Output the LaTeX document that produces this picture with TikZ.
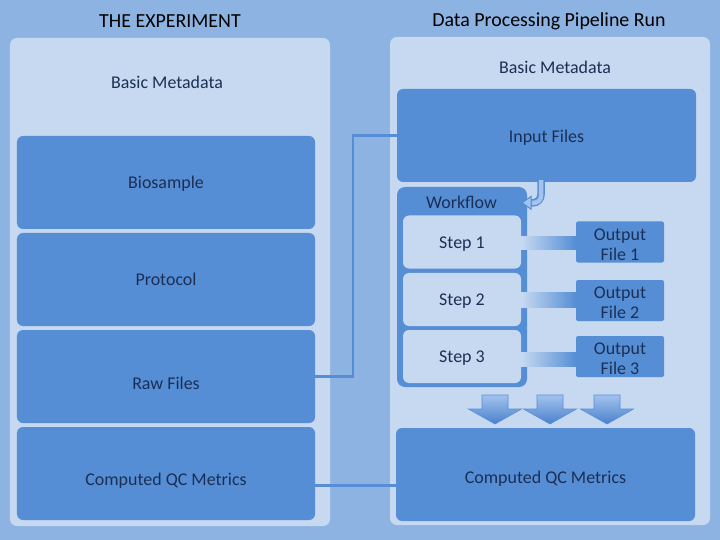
\documentclass[tikz,border=0pt]{standalone}
\usepackage{fontspec}
\setmainfont{Carlito}
\usetikzlibrary{calc}
\definecolor{bgc}{HTML}{8DB3E2}
\definecolor{panelc}{HTML}{C6D9F1}
\definecolor{boxc}{HTML}{558ED5}
\definecolor{txtc}{HTML}{1B2F55}
\definecolor{arrowlight}{HTML}{A3C3EE}
\definecolor{arrowdark}{HTML}{4A80CC}
\newcommand{\upstrut}{\rule{0pt}{16.5pt}}
\begin{document}
\begin{tikzpicture}[x=1bp,y=-1bp,
  panel/.style={fill=panelc, draw=none, rounded corners=7bp, inner sep=0pt},
  bigbox/.style={fill=boxc, draw=none, rounded corners=6bp, inner sep=0pt, text=txtc,
     font=\fontsize{18}{21}\selectfont, minimum width=298bp, minimum height=93bp,
     text height=13pt, text depth=0pt},
  stepbox/.style={fill=panelc, draw=none, rounded corners=6bp, inner sep=0pt, text=txtc,
     font=\fontsize{18}{21}\selectfont, minimum width=118bp, minimum height=53bp,
     text height=13pt, text depth=0pt},
  outbox/.style={fill=boxc, draw=none, rounded corners=2bp, inner sep=0pt, text=txtc, align=center,
     font=\fontsize{18}{20}\selectfont, minimum width=88bp, minimum height=41bp},
  lbl/.style={text=txtc, inner sep=0pt, font=\fontsize{18}{21}\selectfont},
  ttl/.style={text=black, inner sep=0pt, font=\fontsize{20}{24}\selectfont},
  conn/.style={draw=boxc, line width=2.2bp},
  lowered/.style={text height=#1, text depth=0pt}
]
% background
\fill[bgc] (0,0) rectangle (720,540);
\useasboundingbox (0,0) rectangle (720,540);

% panels
\node[panel, minimum width=320bp, minimum height=488bp] (lp) at (170,282) {};
\node[panel, minimum width=320bp, minimum height=488bp] (rp) at (550,281) {};

% titles
\node[ttl] (t1) at (170,21.5) {THE EXPERIMENT};
\node[ttl] (t2) at (549,21.5) {Data Processing Pipeline Run};

% left column
\node[lbl] (bm1) at (167,82) {Basic Metadata};
\node[bigbox] (bio) at (166,182.5) {Biosample};
\node[bigbox] (pro) at (166,279.5) {Protocol};
\node[bigbox, lowered=26pt] (raw) at (166,376.5) {Raw Files};
\node[bigbox, lowered=24pt] (qcl) at (166,473.5) {Computed QC Metrics};

% right column
\node[lbl] (bm2) at (555,67.5) {Basic Metadata};
\node[bigbox, minimum width=299bp, lowered=15pt] (inp) at (546.5,135.5) {Input Files};
\node[bigbox, minimum width=299bp, lowered=19pt] (qcr) at (545.5,474.5) {Computed QC Metrics};

% workflow
\node[fill=boxc, draw=none, rounded corners=8bp, inner sep=0pt,
      minimum width=130bp, minimum height=200bp] (wf) at (462,287) {};
\node[lbl] (wft) at (461.5,202) {Workflow};
\node[stepbox] (s1) at (462,242) {Step 1};
\node[stepbox] (s2) at (462,299.5) {Step 2};
\node[stepbox] (s3) at (462,356.5) {Step 3};

\node[outbox] (o1) at (620,242) {\upstrut Output\\File 1};
\node[outbox] (o2) at (620,300.5) {\upstrut Output\\File 2};
\node[outbox] (o3) at (620,356.5) {\upstrut Output\\File 3};

% gradient bars step -> output
\shade[left color=panelc, right color=boxc] ($(s1.east)+(0,-5)$) rectangle ($(o1.west)+(0,8)$);
\shade[left color=panelc, right color=boxc] ($(s2.east)+(0,-7)$) rectangle ($(o2.west)+(0,7)$);
\shade[left color=panelc, right color=boxc] ($(s3.east)+(0,-4)$) rectangle ($(o3.west)+(0,10)$);

% connectors between columns
\draw[conn] (raw.east) -- ++(38,0) |- (inp.west);
\draw[conn] ([yshift=-12bp]qcl.east) -- ([yshift=-12bp]qcl.east -| qcr.west);

% curved arrow from input files to workflow
\coordinate (ca) at ($(inp.south)+(-5.5,-1)$);
\coordinate (cb) at ($(wf.north east)+(4,16)$);
\draw[draw=boxc, line width=7.5bp, rounded corners=8bp] (ca) |- (cb);
\draw[draw=arrowlight, line width=4.5bp, rounded corners=7bp] ($(ca)+(0,-1)$) |- ($(cb)+(0.5,0)$);
\filldraw[fill=arrowlight, draw=boxc, line width=1bp, line join=miter]
   ($(cb)+(0,-6.5)$) -- ($(cb)+(-9,0)$) -- ($(cb)+(0,6.5)$) -- cycle;

% down block arrows into computed QC metrics
\foreach \cx in {495,550,607}{
  \shade[top color=arrowlight, bottom color=arrowdark, draw=boxc, line width=0.6bp]
    (\cx-13,395) -- (\cx+13,395) -- (\cx+13,409) -- (\cx+26.5,409) -- (\cx,424)
    -- (\cx-26.5,409) -- (\cx-13,409) -- cycle;
}
\end{tikzpicture}
\end{document}
